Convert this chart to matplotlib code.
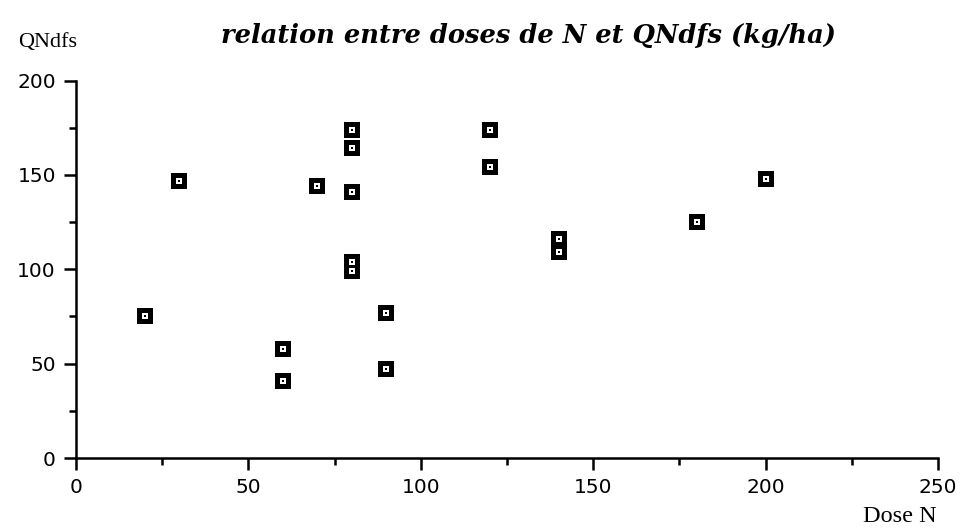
import matplotlib.pyplot as plt
from matplotlib.ticker import MultipleLocator


OUTPUT_PATH = 'out.png'

# nitrogen dose (kg/ha) and N derived from fertilizer (kg/ha)
DOSE_N = [20, 30, 60, 60, 70, 80, 80, 80, 80, 80, 90, 90, 120, 120, 140, 140, 180, 200]
QNDFS = [75, 147, 58, 41, 144, 174, 164, 141, 104, 99, 77, 47, 174, 154, 116, 109, 125, 148]

X_TICKS = [0, 50, 100, 150, 200, 250]
Y_TICKS = [0, 50, 100, 150, 200]


def build_plot(output_path=OUTPUT_PATH):
    fig = plt.figure(figsize=(9.67, 5.31), dpi=100)
    ax = fig.add_axes([76 / 967, 73 / 531, 862 / 967, 377.5 / 531])

    # hollow-looking square marker: black square, white inset, black centre dot
    ax.plot(DOSE_N, QNDFS, linestyle='none', marker='s', markersize=11,
            markerfacecolor='black', markeredgewidth=0, clip_on=False)
    ax.plot(DOSE_N, QNDFS, linestyle='none', marker='s', markersize=3.8,
            markerfacecolor='white', markeredgewidth=0, clip_on=False)
    ax.plot(DOSE_N, QNDFS, linestyle='none', marker='s', markersize=1.6,
            markerfacecolor='black', markeredgewidth=0, clip_on=False)

    ax.set_xlim(0, 250)
    ax.set_ylim(0, 200)
    ax.set_xticks(X_TICKS)
    ax.set_yticks(Y_TICKS)
    ax.xaxis.set_minor_locator(MultipleLocator(25))
    ax.yaxis.set_minor_locator(MultipleLocator(25))

    for side in ('top', 'right'):
        ax.spines[side].set_visible(False)
    for side in ('left', 'bottom'):
        ax.spines[side].set_linewidth(1.8)

    ax.tick_params(which='major', direction='out', length=8.5, width=1.8,
                   labelsize=14.5, pad=6)
    ax.tick_params(which='minor', direction='out', length=5, width=1.8)
    for lbl in ax.get_xticklabels() + ax.get_yticklabels():
        lbl.set_family('DejaVu Sans')

    fig.text(48 / 967, 1 - 42 / 531, 'QNdfs', family='Liberation Serif',
             fontsize=16, ha='center', va='center')
    fig.text(937 / 967, 1 - 516 / 531, 'Dose N', family='Liberation Serif',
             fontsize=17.5, ha='right', va='center')
    fig.text(528 / 967, 1 - 35 / 531, 'relation entre doses de N et QNdfs (kg/ha)',
             family='DejaVu Serif', fontsize=18.5, fontweight='bold',
             fontstyle='italic', ha='center', va='center')

    fig.savefig(output_path, dpi=100)
    return fig, ax


if __name__ == '__main__':
    build_plot()
